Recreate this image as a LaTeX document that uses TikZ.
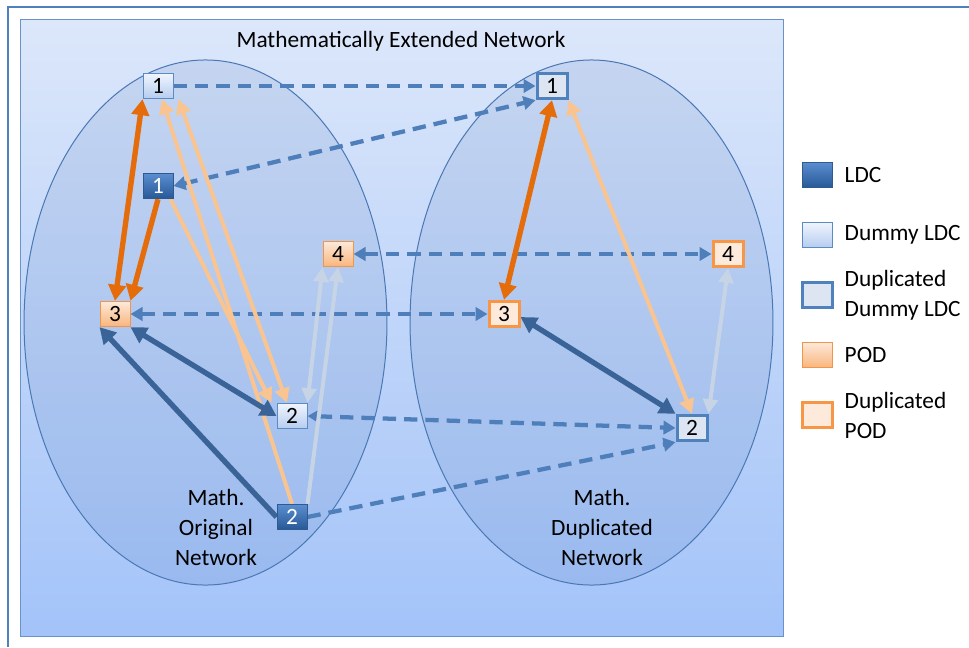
\documentclass[tikz,border=0pt]{standalone}
\usepackage{fontspec}
\setmainfont{Carlito}
\usetikzlibrary{arrows.meta,calc}
\definecolor{frame}{HTML}{4F81BD}
\definecolor{bgtop}{HTML}{DCE7FA}
\definecolor{bgbot}{HTML}{A3C3F9}
\definecolor{bgline}{HTML}{6A93CB}
\definecolor{ellline}{HTML}{4A78B4}
\definecolor{ellfill}{HTML}{2050A0}
\definecolor{dashc}{HTML}{4F7FBA}
\definecolor{orangec}{HTML}{E46C0A}
\definecolor{peachc}{HTML}{FAC490}
\definecolor{darkbc}{HTML}{3A6497}
\definecolor{grayc}{HTML}{C6D4E6}
\definecolor{ldctop}{HTML}{5A8ED0}
\definecolor{ldcbot}{HTML}{285896}
\definecolor{ldcline}{HTML}{2F5A8F}
\definecolor{dumtop}{HTML}{F0F5FD}
\definecolor{dumbot}{HTML}{B5CCF0}
\definecolor{dumline}{HTML}{5B8AC5}
\definecolor{dupfill}{HTML}{DCE5F1}
\definecolor{podtop}{HTML}{FDE9D9}
\definecolor{podbot}{HTML}{F9B57C}
\definecolor{podline}{HTML}{F0964A}
\definecolor{dpodfill}{HTML}{FDEADA}
\definecolor{dpodline}{HTML}{F79646}
\begin{document}
\begin{tikzpicture}[x=0.75pt,y=-0.75pt,
  every node/.style={font=\fontsize{17.5}{22.5}\selectfont},
  box/.style={rectangle,minimum width=22.5pt,minimum height=19pt,inner sep=0pt},
  ldc/.style={box,top color=ldctop,bottom color=ldcbot,draw=ldcline,line width=0.75pt,text=white},
  dummy/.style={box,top color=dumtop,bottom color=dumbot,draw=dumline,line width=0.75pt},
  dupdummy/.style={box,fill=dupfill,draw=frame,line width=2.25pt},
  pod/.style={box,top color=podtop,bottom color=podbot,draw=podline,line width=0.75pt},
  duppod/.style={box,fill=dpodfill,draw=dpodline,line width=2.25pt},
  dashl/.style={draw=dashc,line width=3.2pt,dash pattern=on 10pt off 6pt,>={Triangle[length=9pt,width=10pt]}},
  orl/.style={draw=orangec,line width=4pt,>={Triangle[length=12pt,width=13pt]}},
  pch/.style={draw=peachc,line width=3pt,>={Triangle[length=11pt,width=11pt]}},
  gry/.style={draw=grayc,line width=3pt,>={Triangle[length=11pt,width=11pt]}},
  dbl/.style={draw=darkbc,line width=4pt,>={Triangle[length=12pt,width=13pt]}},
  ell/.style={draw=ellline,line width=0.75pt,fill=ellfill,fill opacity=0.1}
]
\useasboundingbox (0,0) rectangle (969,647);
% outer frame
\draw[frame,line width=1.5pt] (8,647) -- (8,7) -- (969,7);
% inner panel
\draw[bgline,line width=0.75pt,top color=bgtop,bottom color=bgbot] (20,19) rectangle (783,636);
\node (title) at (401,41) {Mathematically Extended Network};
% ellipses
\draw[ell] (205.5,322.5) ellipse [x radius=136.1pt, y radius=196.9pt];
\draw[ell] (591.5,322.5) ellipse [x radius=136.1pt, y radius=196.9pt];
% network labels
\node[align=center] (lorig) at (216,527) {Math.\\Original\\Network};
\node[align=center] (ldup) at (602,527) {Math.\\Duplicated\\Network};
% nodes (placed first so edges can refer to them; redrawn on top below)
\node[dummy] (L1) at (158,86) {1};
\node[ldc] (L1d) at (158,186) {1};
\node[pod] (L4) at (338,254) {4};
\node[pod] (L3) at (115,314) {3};
\node[dummy] (L2) at (292,416) {2};
\node[ldc] (L2d) at (292,517) {2};
\node[dupdummy] (R1) at (552,86) {1};
\node[duppod] (R4) at (728,254) {4};
\node[duppod] (R3) at (504,314) {3};
\node[dupdummy] (R2) at (692,428) {2};
% dashed
\draw[dashl,->] (L1.east) -- (R1.west);
\draw[dashl,<->] (L1d.east) -- (R1.south west);
\draw[dashl,<->] (L4.east) -- (R4.west);
\draw[dashl,<->] (L3.east) -- (R3.west);
\draw[dashl,<->] (L2.east) -- (R2.west);
\draw[dashl,->] (L2d.east) -- (R2.south west);
% orange
\draw[orl,<->] (L3.north) -- (L1.south west);
\draw[orl,->] (L1d.south) -- (L3.north east);
\draw[orl,<->] (R3.north) -- (R1.south);
% peach
\draw[pch,->] (L2d.north) -- ($(L1.south)+(4,0)$);
\draw[pch,<->] ($(L1.south east)+(5,0)$) -- ($(L2.north)+(-5,0)$);
\draw[pch,->] ($(L1d.south east)+(-3,0)$) -- ($(L2.north west)+(-5,0)$);
\draw[pch,<->] (R1.south east) -- (R2.north);
% gray
\draw[gry,<->] (L4.south west) -- (L2.north east);
\draw[gry,->] (L2d.north east) -- (L4.south);
\draw[gry,<->] (R4.south) -- (R2.north east);
% dark blue
\draw[dbl,<->] (L3.south east) -- (L2.west);
\draw[dbl,->] (L2d.west) -- (L3.south west);
\draw[dbl,<->] ($(R3.east)+(0,3)$) -- (R2.north west);
% redraw nodes on top
\node[dummy] at (L1) {1};
\node[ldc] at (L1d) {1};
\node[pod] at (L4) {4};
\node[pod] at (L3) {3};
\node[dummy] at (L2) {2};
\node[ldc] at (L2d) {2};
\node[dupdummy] at (R1) {1};
\node[duppod] at (R4) {4};
\node[duppod] at (R3) {3};
\node[dupdummy] at (R2) {2};
% legend
\node[ldc] (kLDC) at (817,175) {};
\node[anchor=west] (tLDC) at (840,175) {LDC};
\node[dummy] (kDum) at (817,235) {};
\node[anchor=west] (tDum) at (840,235) {Dummy LDC};
\node[dupdummy] (kDD) at (817,295) {};
\node[anchor=west,align=left] (tDD) at (840,295) {Duplicated\\Dummy LDC};
\node[pod] (kPOD) at (817,355) {};
\node[anchor=west] (tPOD) at (840,355) {POD};
\node[duppod] (kDP) at (817,415) {};
\node[anchor=west,align=left] (tDP) at (840,415) {Duplicated\\POD};
\end{tikzpicture}
\end{document}
